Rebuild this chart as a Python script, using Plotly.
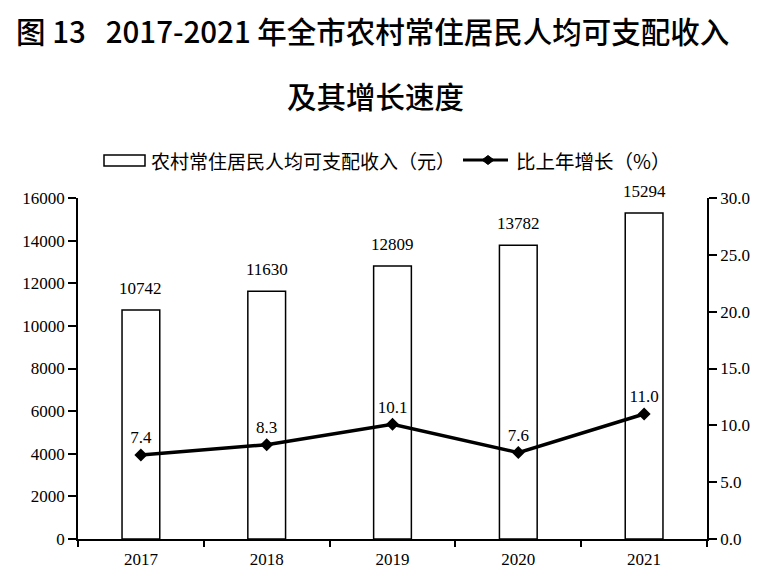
import plotly.graph_objects as go

years = ["2017", "2018", "2019", "2020", "2021"]
income = [10742, 11630, 12809, 13782, 15294]
growth = [7.4, 8.3, 10.1, 7.6, 11.0]
growth_labels = ["7.4", "8.3", "10.1", "7.6", "11.0"]
left_ticks = [0, 2000, 4000, 6000, 8000, 10000, 12000, 14000, 16000]
left_tick_labels = [str(v) for v in left_ticks]
right_ticks = [0, 5, 10, 15, 20, 25, 30]
right_tick_labels = ["0.0", "5.0", "10.0", "15.0", "20.0", "25.0", "30.0"]
legend_names = ["农村常住居民人均可支配收入（元）", "比上年增长（%）"]
title_lines = ["图 13   2017-2021 年全市农村常住居民人均可支配收入", "及其增长速度"]

serif = "Liberation Serif, Times New Roman, serif"
cjk = "Noto Sans CJK SC"

# figure geometry (the page body adds an 8px offset)
W, H = 760, 577
L, R, T, B = 70, 699, 190, 531


def px(x):
    return (x - L) / (R - L)


def py(y):
    return (B - y) / (B - T)


fig = go.Figure()
fig.add_trace(go.Bar(
    x=years, y=income, name=legend_names[0],
    marker=dict(color="white", line=dict(color="black", width=1.5)),
    width=0.30, showlegend=False,
))
fig.add_trace(go.Scatter(
    x=years, y=growth, yaxis="y2", name=legend_names[1],
    mode="lines+markers+text",
    line=dict(color="black", width=3.5),
    marker=dict(symbol="diamond", size=10, color="black"),
    text=growth_labels, textposition="top center",
    textfont=dict(family=serif, size=17, color="black"),
    cliponaxis=False, showlegend=False,
))

annotations = []
for i, v in enumerate(income):
    annotations.append(dict(x=i, y=v, xref="x", yref="y", text=str(v), showarrow=False,
                            yshift=22, font=dict(family=serif, size=17, color="black")))

annotations += [
    dict(text=title_lines[0], xref="paper", yref="paper", x=px(364), y=py(22),
         xanchor="center", yanchor="middle", showarrow=False,
         font=dict(family=cjk, size=29.5, color="black", weight=500)),
    dict(text=title_lines[1], xref="paper", yref="paper", x=px(367), y=py(87),
         xanchor="center", yanchor="middle", showarrow=False,
         font=dict(family=cjk, size=29.5, color="black", weight=500)),
    dict(text=legend_names[0], xref="paper", yref="paper", x=px(141), y=py(152),
         xanchor="left", yanchor="middle", showarrow=False,
         font=dict(family=cjk, size=19, color="black")),
    dict(text=legend_names[1], xref="paper", yref="paper", x=px(506), y=py(152),
         xanchor="left", yanchor="middle", showarrow=False,
         font=dict(family=cjk, size=19.5, color="black")),
]

dx, dy = 6, 4.5
cx, cy = 480, 152
shapes = [
    dict(type="rect", xref="paper", yref="paper", x0=px(96), x1=px(137), y0=py(147), y1=py(158),
         line=dict(color="black", width=1.5), fillcolor="white"),
    dict(type="line", xref="paper", yref="paper", x0=px(455), x1=px(500), y0=py(152), y1=py(152),
         line=dict(color="black", width=3)),
    dict(type="path", xref="paper", yref="paper",
         path=f"M {px(cx-dx)} {py(cy)} L {px(cx)} {py(cy-dy)} L {px(cx+dx)} {py(cy)} L {px(cx)} {py(cy+dy)} Z",
         fillcolor="black", line=dict(color="black", width=1)),
]

fig.update_layout(
    width=W, height=H,
    margin=dict(l=L, r=W - R, t=T, b=H - B),
    paper_bgcolor="white", plot_bgcolor="white",
    showlegend=False,
    xaxis=dict(type="category", tickson="boundaries", ticks="outside", ticklen=6,
               tickcolor="black", tickwidth=1.5, showline=True, linecolor="black", linewidth=1.5,
               showgrid=False, tickfont=dict(family=serif, size=17, color="black"),
               ticklabelstandoff=4, range=[-0.5, 4.5]),
    yaxis=dict(range=[0, 16000], tickvals=left_ticks, ticktext=left_tick_labels,
               ticks="outside", ticklen=8, tickwidth=1.5,
               tickcolor="black", showline=True, linecolor="black", linewidth=1.5,
               showgrid=False, zeroline=False,
               tickfont=dict(family=serif, size=17, color="black")),
    yaxis2=dict(range=[0, 30], overlaying="y", side="right", tickvals=right_ticks,
                ticktext=right_tick_labels, ticks="outside", ticklen=8, tickwidth=1.5,
                tickcolor="black", showline=True, linecolor="black", linewidth=1.5,
                showgrid=False, zeroline=False,
                tickfont=dict(family=serif, size=17, color="black")),
    annotations=annotations,
    shapes=shapes,
)

fig.write_html("out.html")
